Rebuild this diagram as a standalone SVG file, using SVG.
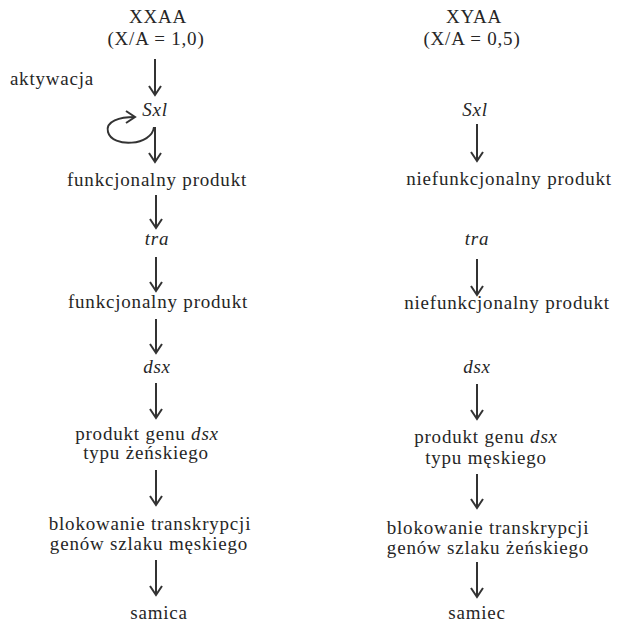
<svg xmlns="http://www.w3.org/2000/svg" width="629" height="625" viewBox="0 0 629 625">
<defs>
<marker id="ah" viewBox="0 0 12 14" refX="10" refY="7" markerWidth="12" markerHeight="14" markerUnits="userSpaceOnUse" orient="auto">
<path d="M1,1 L10,7 L1,13" fill="none" stroke="#333" stroke-width="2" stroke-linejoin="miter"/>
</marker>
</defs>
<style>
text{font-family:"Liberation Serif","DejaVu Serif",serif;font-size:19px;letter-spacing:0.8px;fill:#262626;text-anchor:middle}
.i{font-style:italic}
.c line,.c path{stroke:#333;stroke-width:2;fill:none;marker-end:url(#ah)}
</style>
<rect width="629" height="625" fill="#fff"/>
<g id="xxaa"><text x="158" y="23">XXAA</text><text x="156" y="45">(X/A = 1,0)</text></g>
<g id="aktywacja"><text x="52" y="85">aktywacja</text></g>
<g id="sxl-l"><text class="i" x="155" y="116">Sxl</text></g>
<g id="fp1-l"><text x="157" y="186">funkcjonalny produkt</text></g>
<g id="tra-l"><text class="i" x="157" y="245">tra</text></g>
<g id="fp2-l"><text x="158" y="308">funkcjonalny produkt</text></g>
<g id="dsx-l"><text class="i" x="157" y="373">dsx</text></g>
<g id="pg-l"><text x="147" y="440">produkt genu <tspan class="i">dsx</tspan></text><text x="146" y="459">typu żeńskiego</text></g>
<g id="bl-l"><text x="150" y="530">blokowanie transkrypcji</text><text x="149" y="550">genów szlaku męskiego</text></g>
<g id="samica"><text x="159" y="619">samica</text></g>

<g id="xyaa"><text x="474" y="23">XYAA</text><text x="472" y="45">(X/A = 0,5)</text></g>
<g id="sxl-r"><text class="i" x="475" y="116">Sxl</text></g>
<g id="fp1-r"><text x="509" y="185">niefunkcjonalny produkt</text></g>
<g id="tra-r"><text class="i" x="477" y="245">tra</text></g>
<g id="fp2-r"><text x="507" y="309">niefunkcjonalny produkt</text></g>
<g id="dsx-r"><text class="i" x="477" y="373">dsx</text></g>
<g id="pg-r"><text x="486" y="443">produkt genu <tspan class="i">dsx</tspan></text><text x="486" y="464">typu męskiego</text></g>
<g id="bl-r"><text x="488" y="534">blokowanie transkrypcji</text><text x="488" y="554">genów szlaku żeńskiego</text></g>
<g id="samiec"><text x="477" y="619">samiec</text></g>

<g id="connectors" class="c">
<line x1="155" y1="59" x2="155" y2="95"/>
<path d="M154,127 C152,146 112,148 108,132 C105,121 120,117 135,117"/>
<line x1="155" y1="127" x2="155" y2="162"/>
<line x1="156" y1="195" x2="156" y2="228"/>
<line x1="156" y1="257" x2="156" y2="291"/>
<line x1="156" y1="319" x2="156" y2="353"/>
<line x1="156" y1="383" x2="156" y2="418"/>
<line x1="156" y1="470" x2="156" y2="505"/>
<line x1="156" y1="560" x2="156" y2="595"/>
<line x1="477" y1="124" x2="477" y2="161"/>
<line x1="477" y1="259" x2="477" y2="295"/>
<line x1="477" y1="384" x2="477" y2="419"/>
<line x1="477" y1="474" x2="477" y2="508"/>
<line x1="477" y1="562" x2="477" y2="597"/>
</g>
</svg>
